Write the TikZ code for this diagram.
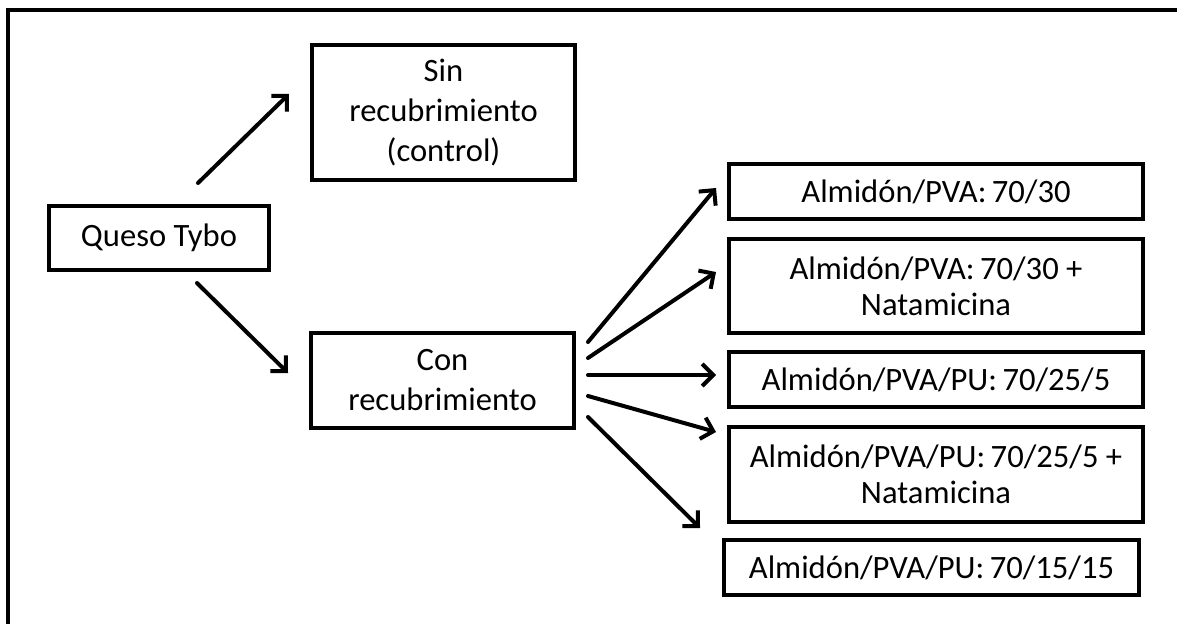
\documentclass[tikz,border=0pt]{standalone}
\usepackage{fontspec}
\setmainfont{Carlito}
\usepackage{tikz}
\usetikzlibrary{arrows.meta, positioning, calc}

\begin{document}
\begin{tikzpicture}[
      x=1pt, y=-1pt,
      every node/.style={font=\fontsize{32.6}{40}\selectfont},
      box/.style={
        rectangle, draw=black, line width=4pt,
        align=center, inner sep=4pt
      },
      twoline/.style={box, font=\fontsize{32.6}{36}\selectfont},
      arr/.style={-{Straight Barb[length=11pt, width=22pt, line width=4pt]}, line width=4pt, line cap=round}
    ]
      \useasboundingbox (0,0) rectangle (1177,624);
      % frame
      \draw[line width=4pt] (8,624) -- (8,9.5) -- (1177,9.5);

      \node[box, minimum width=220pt, minimum height=64pt] (queso) at (159,238) {Queso Tybo};
      \node[box, minimum width=263pt, minimum height=135pt] (sin) at (443.5,112.5) {Sin\\recubrimiento\\(control)};
      \node[box, minimum width=263pt, minimum height=95pt] (con) at (442.5,380.5) {Con\\recubrimiento};

      \node[box, minimum width=414pt, minimum height=55pt] (a1) at (936,191.5) {Almidón/PVA:\,70/30};
      \node[twoline, minimum width=414pt, minimum height=94pt] (a2) at (936,286) {Almidón/PVA:\,70/30 +\\Natamicina};
      \node[box, minimum width=414pt, minimum height=55pt] (a3) at (936,379.5) {Almidón/PVA/PU:\,70/25/5};
      \node[twoline, minimum width=414pt, minimum height=95pt] (a4) at (936,474.5) {Almidón/PVA/PU:\,70/25/5 +\\Natamicina};
      \node[box, minimum width=415pt, minimum height=55pt] (a5) at (931.5,567.5) {Almidón/PVA/PU:\,70/15/15};

      \draw[arr] ($(queso.north)+(39,-21)$) -- ($(sin.west)+(-21,-18.5)$);
      \draw[arr] ($(queso.south)+(38,11)$) -- ($(con.west)+(-21,-7.5)$);
      \draw[arr] ($(con.east)+(12,-38.5)$) -- ($(a1.west)+(-11,-3.5)$);
      \draw[arr] ($(con.east)+(12,-22.5)$) -- ($(a2.west)+(-11,-14)$);
      \draw[arr] ($(con.east)+(12,-5.5)$) -- ($(a3.west)+(-11,-4.5)$);
      \draw[arr] ($(con.east)+(12,15.5)$) -- ($(a4.west)+(-11,-42.5)$);
      \draw[arr] ($(con.east)+(12,36.5)$) -- ($(a5.north west)+(-22,-10)$);
    \end{tikzpicture}
\end{document}
